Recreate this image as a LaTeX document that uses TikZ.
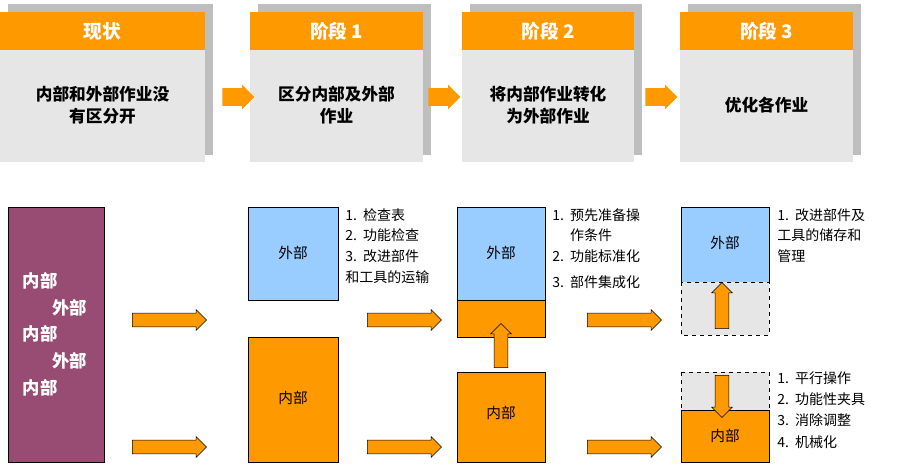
\documentclass[tikz,border=0pt]{standalone}
\usepackage{fontspec}
\setmainfont{Noto Sans CJK SC}
\usepackage{tikz}
\usetikzlibrary{shapes.arrows,arrows.meta}

\definecolor{Orange}{RGB}{255,153,0}
\definecolor{Body}{RGB}{230,230,230}
\definecolor{Shade}{RGB}{190,190,190}
\definecolor{Blue}{RGB}{153,204,255}
\definecolor{Plum}{RGB}{153,76,115}

\begin{document}
\begin{tikzpicture}[%
		x=0.75pt, y=-0.75pt,
		font=\fontsize{11}{14}\selectfont,
		head/.style={fill=Orange, draw=none, text=white, font=\fontsize{14}{16}\selectfont\bfseries},
		body/.style={fill=Body, draw=none, font=\fontsize{12.5}{17}\selectfont\bfseries, align=center},
		shade/.style={fill=Shade, draw=none},
		blk/.style={single arrow, fill=Orange, draw=none, minimum height=32*0.75pt, inner ysep=6.5pt, inner xsep=0pt, single arrow head extend=2.5pt},
		fat/.style={single arrow, fill=Orange, draw=black, thin, minimum height=74*0.75pt, inner ysep=5pt, inner xsep=0pt, single arrow head extend=2.5pt},
		vfat/.style={fat, inner xsep=5pt, inner ysep=0pt, minimum height=44*0.75pt, shape border rotate=#1},
		outer/.style={draw=black, fill=Blue},
		inner/.style={draw=black, fill=Orange},
		ghost/.style={draw=black, dashed, fill=Body},
		list/.style={anchor=north west, align=left, inner sep=0pt, font=\fontsize{10.5}{15.5}\selectfont}
		]

		\useasboundingbox (0,0) rectangle (920,469);

		%% Kopfzeile
		\foreach \x/\w/\name/\txt [count=\i] in {0/205/现状/{内部和外部作业没\\有区分开},
				250/173/阶段 1/{区分内部及外部\\作业},
				462/172/阶段 2/{将内部作业转化\\为外部作业},
				680/173/阶段 3/{优化各作业}} {
			\fill [shade] (\x+8,4) rectangle ++(\w,151);
			\fill [head] (\x,12) rectangle ++(\w,38);
			\fill [body] (\x,50) rectangle ++(\w,112);
			\node [head] (h\i) at (\x+\w/2,31) {\name};
			\node [body, fill=none] (b\i) at (\x+\w/2,105) {\txt};
		}
		\node [blk] (a1) at (234,97) {};
		\node [blk] (a2) at (440,97) {};
		\node [blk] (a3) at (657,97) {};

		%% Ist-Zustand
		\fill [Plum, draw=black] (8,207) rectangle (104,462);
		\node [text=white, font=\fontsize{13}{20}\selectfont\bfseries, align=left, anchor=west] (mix) at (18,334)
			{内部\\\hspace{1.7em}外部\\内部\\\hspace{1.7em}外部\\内部};

		%% Pfeile unten
		\foreach \x [count=\i] in {166,401,621} {
			\node [fat] (t\i) at (\x,320) {};
			\node [fat] (u\i) at (\x,447) {};
		}

		%% Stufe 1
		\draw [outer] (248,207) rectangle (338,300);
		\node (o1) at (293,253) {外部};
		\draw [inner] (248,337) rectangle (338,462);
		\node (i1) at (293,398) {内部};
		\node [list] (l1) at (345,208) {1.\ \ 检查表\\2.\ \ 功能检查\\3.\ \ 改进部件\\和工具的运输};

		%% Stufe 2
		\draw [outer] (457,207) rectangle (545,300);
		\node (o2) at (501,253) {外部};
		\draw [inner] (457,300) rectangle (545,337);
		\draw [inner] (457,372) rectangle (545,462);
		\node (i2) at (501,413) {内部};
		\node [vfat=90] (v2) at (501,349) {};
		\node [list] (l2) at (552,208) {1.\ \ 预先准备操\\\phantom{1.\ \ }作条件\\2.\ \ 功能标准化\\[4pt]3.\ \ 部件集成化};

		%% Stufe 3
		\draw [outer] (681,207) rectangle (769,282);
		\node (o3) at (725,243) {外部};
		\draw [ghost] (681,282) rectangle (769,335);
		\node [vfat=90, minimum height=46*0.75pt] (v3) at (722,309) {};
		\draw [ghost] (681,372) rectangle (769,410);
		\draw [inner] (681,410) rectangle (769,462);
		\node (i3) at (725,436) {内部};
		\node [vfat=270, minimum height=42*0.75pt] (w3) at (722,393) {};
		\node [list] (l3) at (777,208) {1.\ \ 改进部件及\\工具的储存和\\管理};
		\node [list, font=\fontsize{10.5}{16}\selectfont] (l4) at (777,371) {1.\ \ 平行操作\\2.\ \ 功能性夹具\\3.\ \ 消除调整\\4.\ \ 机械化};

	\end{tikzpicture}
\end{document}
